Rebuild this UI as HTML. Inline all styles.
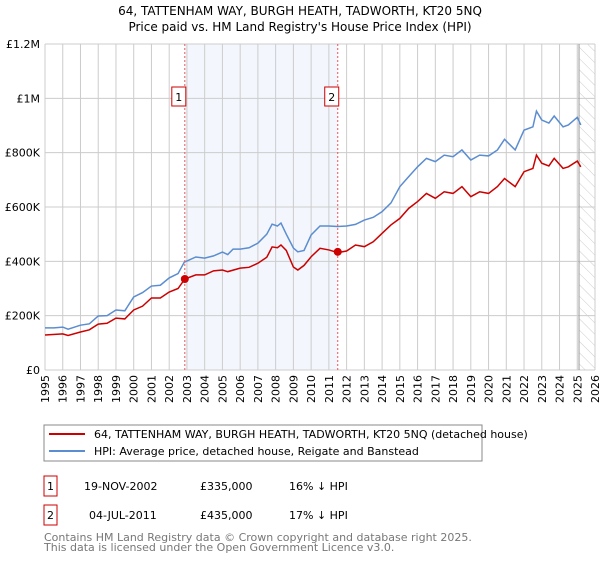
<!DOCTYPE html>
<html><head><meta charset="utf-8"><style>
body{margin:0;background:#fff;width:600px;height:560px;overflow:hidden;font-family:"DejaVu Sans","Liberation Sans",sans-serif}
svg text{font-family:"DejaVu Sans","Liberation Sans",sans-serif}
</style></head><body>
<svg id="c" width="600" height="560">
<defs><pattern id="hatch" width="8" height="8" patternUnits="userSpaceOnUse" patternTransform="rotate(-45)"><line x1="0" y1="0" x2="0" y2="8" stroke="#ccc" stroke-width="1"/></pattern></defs>
<text x="300" y="15" text-anchor="middle" font-size="12">64, TATTENHAM WAY, BURGH HEATH, TADWORTH, KT20 5NQ</text>
<text x="300" y="31" text-anchor="middle" font-size="12">Price paid vs. HM Land Registry's House Price Index (HPI)</text>
<g id="grid"></g><g id="marks"></g>
<rect x="44" y="425" width="438" height="36" fill="#fff" stroke="#888"/>
<line x1="49" y1="434" x2="85" y2="434" stroke="#cc0000" stroke-width="2"/>
<text x="94" y="438" font-size="11">64, TATTENHAM WAY, BURGH HEATH, TADWORTH, KT20 5NQ (detached house)</text>
<line x1="49" y1="451" x2="85" y2="451" stroke="#5b8dd0" stroke-width="2"/>
<text x="94" y="455" font-size="11">HPI: Average price, detached house, Reigate and Banstead</text>
<g font-size="11">
<rect x="44" y="476" width="13" height="20" fill="#fff" stroke="#cc0000"/><text x="50.5" y="490" text-anchor="middle">1</text>
<text x="84" y="490">19-NOV-2002</text><text x="200" y="490">£335,000</text><text x="289" y="490">16% ↓ HPI</text>
<rect x="44" y="505" width="13" height="20" fill="#fff" stroke="#cc0000"/><text x="50.5" y="519" text-anchor="middle">2</text>
<text x="89" y="519">04-JUL-2011</text><text x="200" y="519">£435,000</text><text x="289" y="519">17% ↓ HPI</text>
</g>
<text x="44" y="541" font-size="11" fill="#777">Contains HM Land Registry data © Crown copyright and database right 2025.</text>
<text x="44" y="551" font-size="11" fill="#777">This data is licensed under the Open Government Licence v3.0.</text>
</svg>
<script>
const hpiYears=[1995,1995.5,1996,1996.3,1997,1997.5,1998,1998.5,1999,1999.5,2000,2000.5,2001,2001.5,2002,2002.5,2002.85,2003.5,2004,2004.5,2005,2005.3,2005.6,2006,2006.5,2007,2007.5,2007.8,2008.1,2008.3,2008.6,2009,2009.25,2009.6,2010,2010.5,2011,2011.5,2012,2012.5,2013,2013.5,2014,2014.5,2015,2015.5,2016,2016.5,2017,2017.5,2018,2018.5,2019,2019.5,2020,2020.5,2020.9,2021.5,2022,2022.5,2022.7,2023,2023.4,2023.7,2024.2,2024.5,2025,2025.2];
const hpiValues=[155,155,158,150,165,170,199,200,221,218,269,285,309,312,339,355,397,416,412,420,434,425,445,445,450,467,500,537,530,541,500,449,435,440,497,530,530,528,530,536,552,562,583,615,675,712,748,779,767,791,785,810,773,791,788,810,849,810,883,895,953,920,909,935,895,902,930,902];
const priceYears=[1995,1996,1996.3,1997,1997.5,1998,1998.5,1999,1999.5,2000,2000.5,2001,2001.5,2002,2002.5,2002.88,2003.5,2004,2004.5,2005,2005.3,2006,2006.5,2007,2007.5,2007.8,2008.1,2008.3,2008.6,2009,2009.25,2009.6,2010,2010.5,2011,2011.5,2012,2012.5,2013,2013.5,2014,2014.5,2015,2015.5,2016,2016.5,2017,2017.5,2018,2018.5,2019,2019.5,2020,2020.5,2020.9,2021.5,2022,2022.5,2022.7,2023,2023.4,2023.7,2024.2,2024.5,2025,2025.2];
const priceValues=[129,133,127,140,148,169,172,191,188,221,235,265,265,287,300,335,350,350,365,368,362,375,378,393,415,453,450,460,440,379,368,385,417,448,442,432,438,460,454,472,503,534,558,595,620,650,632,656,650,675,638,656,650,675,705,675,730,742,791,761,751,779,742,748,769,748];
const saleYears=[2002.88,2011.5];
const saleValues=[335,435];
const saleLabels=["1","2"];
const yTicks=[0,200,400,600,800,1000,1200];
const yTickLabels=["£0","£200K","£400K","£600K","£800K","£1M","£1.2M"];
const xTicks=[1995,1996,1997,1998,1999,2000,2001,2002,2003,2004,2005,2006,2007,2008,2009,2010,2011,2012,2013,2014,2015,2016,2017,2018,2019,2020,2021,2022,2023,2024,2025,2026];
const X0=45,X1=595,Y0=370,Y1=44;
const xs=y=>X0+(y-1995)/31*(X1-X0);
const ys=v=>Y0-v/1200*(Y0-Y1);
const NS="http://www.w3.org/2000/svg";
function mk(p,t,a){const e=document.createElementNS(NS,t);for(const k in a)e.setAttribute(k,a[k]);p.appendChild(e);return e;}
const g=document.getElementById('grid'),m=document.getElementById('marks');
let r=mk(g,'rect',{x:xs(saleYears[0]),y:Y1,width:xs(saleYears[1])-xs(saleYears[0]),height:Y0-Y1,fill:'#eef3fc',opacity:0.7});


r=mk(g,'rect',{x:xs(2025.1),y:Y1,width:X1-xs(2025.1),height:Y0-Y1,fill:'url(#hatch)'});


yTicks.forEach((v,i)=>{
 mk(g,'line',{x1:X0,x2:X1,y1:ys(v),y2:ys(v),stroke:'#ccc'});
 const t=mk(g,'text',{x:X0-5,y:ys(v)+4,'text-anchor':'end','font-size':11});t.textContent=yTickLabels[i];
 
 
});
xTicks.forEach(y=>{
 mk(g,'line',{x1:xs(y),x2:xs(y),y1:Y1,y2:Y0,stroke:'#ccc'});
 const t=mk(g,'text',{x:xs(y)+4,y:Y0+5,'text-anchor':'end','font-size':11,transform:`rotate(-90 ${xs(y)+4} ${Y0+5})`});t.textContent=y;
 
 
});
mk(g,'line',{x1:xs(2025.1),x2:xs(2025.1),y1:Y1,y2:Y0,stroke:'#999'});
function line(xa,va,c,n){const p=mk(m,'polyline',{points:xa.map((x,i)=>xs(x)+','+ys(va[i])).join(' '),fill:'none',stroke:c,'stroke-width':1.5});
 
 }
line(hpiYears,hpiValues,'#5b8dd0','hpi-line');
line(priceYears,priceValues,'#cc0000','price-line');
saleYears.forEach((y,i)=>{
 mk(m,'line',{x1:xs(y),x2:xs(y),y1:Y1,y2:Y0,stroke:'#e55','stroke-dasharray':'2,2'});
 const c=mk(m,'circle',{cx:xs(y),cy:ys(saleValues[i]),r:4,fill:'#cc0000'});
 
 
 const b=mk(m,'rect',{x:xs(y)-13,y:87,width:14,height:19,fill:'#fff',stroke:'#cc0000'});
 
 
 const t=mk(m,'text',{x:xs(y)-6,y:101,'text-anchor':'middle','font-size':11});t.textContent=saleLabels[i];
});
</script>
</body></html>
